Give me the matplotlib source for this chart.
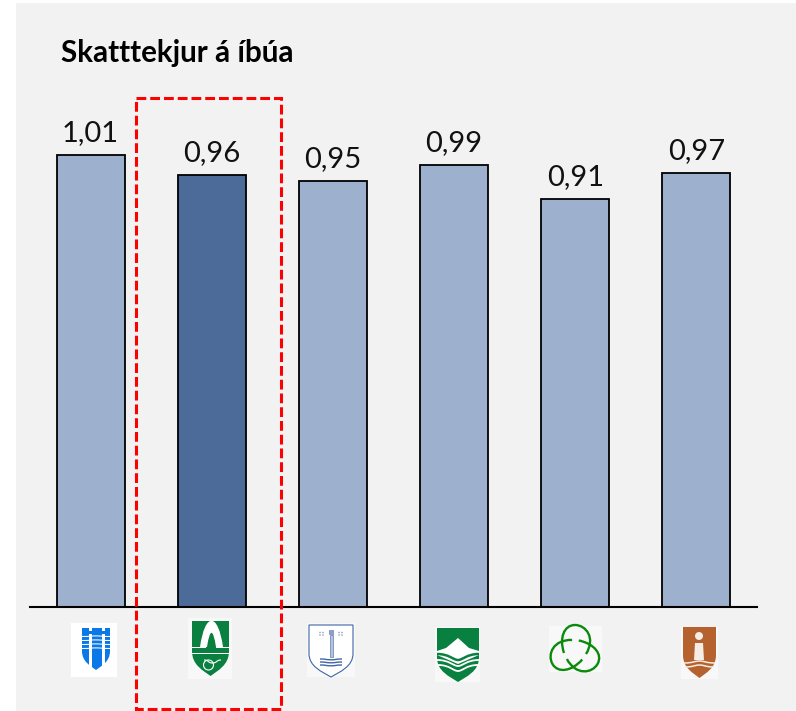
import math
import matplotlib
matplotlib.use("Agg")
import matplotlib.pyplot as plt
from matplotlib.patches import Rectangle, PathPatch, Circle, Polygon
from matplotlib.path import Path

plt.rcParams['font.family'] = ['Lato', 'DejaVu Sans']

titill = "Skatttekjur á íbúa"
gildi = [1.008, 0.964, 0.951, 0.987, 0.911, 0.969]
merki = ["", "", "", "", "", ""]  # sveitarfélögin eru aðeins sýnd með byggðarmerki
valid = 1

W, H = 796, 711
LJOS = "#9DB0CE"
DOKK = "#4D6B98"
BAKGRUNNUR = "#F2F2F2"

fig = plt.figure(figsize=(W / 100, H / 100), dpi=100, facecolor="white")

# teikniflötur í pixlahnitum fyrir bakgrunn, ramma og merki
yfir = fig.add_axes([0, 0, 1, 1], zorder=3)
yfir.set_xlim(0, W)
yfir.set_ylim(H, 0)
yfir.axis("off")
yfir.patch.set_alpha(0)

undir = fig.add_axes([0, 0, 1, 1], zorder=0)
undir.set_xlim(0, W)
undir.set_ylim(H, 0)
undir.axis("off")
undir.add_patch(Rectangle((16, 3), 780, 708, fc=BAKGRUNNUR, ec="none"))

# ---------------- Súlurit ----------------
ax = fig.add_axes([30 / W, (H - 607) / H, 727 / W, 507 / H], zorder=1)
ax.patch.set_alpha(0)
x = list(range(len(gildi)))
litir = [DOKK if i == valid else LJOS for i in x]
ax.bar(x, gildi, width=0.56, color=litir, edgecolor="black", linewidth=1.3)
ax.set_xlim(-0.5, 5.5)
ax.set_ylim(0, 507 / 448)
ax.set_xticks(x)
ax.set_xticklabels(merki)
ax.set_yticks([])
ax.tick_params(length=0)
for s in ["top", "left", "right"]:
    ax.spines[s].set_visible(False)
ax.spines["bottom"].set_linewidth(1.5)

for i, v in zip(x, gildi):
    ax.annotate(f"{v:.2f}".replace(".", ","), (i, v), xytext=(0, 6.5), textcoords="offset points",
                ha="center", va="bottom", fontsize=21, color="#111111")

fig.text(61 / W, 1 - 62 / H, titill, fontsize=21.3, fontweight="bold", color="black", va="baseline")

# rauði ramminn
yfir.add_patch(Rectangle((135.5, 98), 145.5, 611, fc="none", ec="#FF0000", lw=2.2,
                         ls=(0, (3.2, 1.3))))


# ---------------- Byggðarmerki ----------------
def skjoldur(x0, x1, y0, y1, lit, ec="none", lw=0):
    # skjöldur með beinum toppi og oddi neðst
    mx = (x0 + x1) / 2
    h = y1 - y0
    verts = [(x0, y0), (x1, y0), (x1, y0 + 0.55 * h),
             (x1, y0 + 0.8 * h), (mx + 0.2 * (x1 - x0), y0 + 0.9 * h), (mx, y1),
             (mx - 0.2 * (x1 - x0), y0 + 0.9 * h), (x0, y0 + 0.8 * h), (x0, y0 + 0.55 * h),
             (x0, y0)]
    codes = [Path.MOVETO, Path.LINETO, Path.LINETO,
             Path.CURVE4, Path.CURVE4, Path.CURVE4,
             Path.CURVE4, Path.CURVE4, Path.CURVE4,
             Path.CLOSEPOLY]
    p = PathPatch(Path(verts, codes), fc=lit, ec=ec, lw=lw)
    yfir.add_patch(p)
    return p


def bylgja(x0, x1, y, lit, lw, dypt=3):
    mx = (x0 + x1) / 2
    verts = [(x0, y), (x0 + (x1 - x0) * 0.3, y), (mx - 5, y + dypt), (mx, y + dypt),
             (mx + 5, y + dypt), (x1 - (x1 - x0) * 0.3, y), (x1, y)]
    codes = [Path.MOVETO] + [Path.CURVE4] * 6
    yfir.add_patch(PathPatch(Path(verts, codes), fc="none", ec=lit, lw=lw))


def hvitt(x0, y0, x1, y1, lit="#F8F8F8"):
    yfir.add_patch(Rectangle((x0, y0), x1 - x0, y1 - y0, fc=lit, ec="none"))


# 1 - blátt
BLAR = "#0A78E6"
hvitt(71, 623, 117, 677, "white")
skjoldur(82, 110, 628, 670, BLAR)
for xv in [89, 102]:
    yfir.add_patch(Rectangle((xv, 628), 2.6, 44, fc="white", ec="none"))
    yfir.add_patch(Rectangle((xv, 631), 2.6, 3, fc=BLAR, ec="none"))
for yv in [636.5, 640.5, 644.5, 648.5]:
    bylgja(82, 110, yv, "white", 0.75, dypt=-0.6)

# 2 - grænt með boga
GRAENN = "#0A8040"
hvitt(188, 618, 232, 679)
skjoldur(192, 229, 621, 676, GRAENN)
verts = [(200, 647), (205, 612), (218, 612), (223, 647), (216, 647),
         (213, 628), (210, 628), (207, 647), (200, 647)]
codes = [Path.MOVETO, Path.CURVE4, Path.CURVE4, Path.CURVE4, Path.LINETO,
         Path.CURVE4, Path.CURVE4, Path.CURVE4, Path.CLOSEPOLY]
yfir.add_patch(PathPatch(Path(verts, codes), fc="white", ec="none"))
yfir.add_patch(Rectangle((192, 646.5), 37, 1.3, fc="white", ec="none"))
yfir.add_patch(Rectangle((192, 652.5), 37, 1.3, fc="white", ec="none"))
yfir.add_patch(Rectangle((206, 647), 10, 6, fc=GRAENN, ec="none"))
yfir.add_patch(Circle((208.5, 665), 5, fc="none", ec="white", lw=0.8))
bylgja(204, 221, 660, "white", 0.8, dypt=3)

# 3 - viti
VITI = "#3F66A8"
hvitt(307, 623, 355, 677)
skjoldur(309, 353, 625, 677, "white", ec=VITI, lw=0.8)
yfir.add_patch(Rectangle((328.5, 630), 5, 5, fc="#8AA0C8", ec="none"))
yfir.add_patch(Rectangle((329.5, 635), 3, 22, fc="#B4C2DC", ec=VITI, lw=0.4))
for dx in [-11, -8, 8, 11]:
    yfir.add_patch(Circle((331 + dx, 632.5), 0.8, fc="#8AA0C8", ec="none"))
    yfir.add_patch(Circle((331 + dx, 635), 0.8, fc="#8AA0C8", ec="none"))
for yv in [659, 662, 665]:
    bylgja(320, 342, yv, VITI, 1.0, dypt=0.8)

# 4 - grænt með fjalli og bylgjum
GRAENN2 = "#08803F"
hvitt(435, 627, 480, 682)
skjoldur(437, 479, 628, 682, GRAENN2)
yfir.add_patch(Polygon([(437, 651), (446, 648), (458, 638), (469, 648), (479, 651), (479, 655),
                        (458, 664), (437, 655)], fc="white", ec="none"))
bylgja(437, 479, 654, GRAENN2, 1.8, dypt=6)
bylgja(437, 479, 660, "white", 1.3, dypt=6)
bylgja(438, 478, 665, "white", 1.3, dypt=6)

# 5 - þríhyrnd slaufa
hvitt(549, 626, 602, 672)
GR3 = "#0A8A0A"
for horn in [90, 210, 330]:
    a = math.radians(horn)
    ur = (math.cos(a), -math.sin(a))
    vr = (math.sin(a), math.cos(a))
    blad = [(-3, 11), (13, 21), (26, 11), (26, 0), (26, -11), (13, -16), (-2, -11)]
    punktar = [(575 + u * ur[0] + v * vr[0], 651 + u * ur[1] + v * vr[1]) for u, v in blad]
    kodar = [Path.MOVETO] + [Path.CURVE4] * 6
    yfir.add_patch(PathPatch(Path(punktar, kodar), fc="none", ec=GR3, lw=1.7))

# 6 - brúnt
BRUNN = "#B5622E"
hvitt(681, 627, 718, 679)
skjoldur(683, 716, 627, 678, BRUNN)
yfir.add_patch(Circle((699, 636), 4, fc="#F5EDE6", ec="none"))
yfir.add_patch(Polygon([(695, 643), (703, 643), (704, 660), (694, 660)], fc="#F5EDE6", ec="none"))
bylgja(684, 715, 663, "#F5EDE6", 1.1, dypt=-2)
bylgja(685, 714, 667, "#F5EDE6", 1.1, dypt=-2)

fig.savefig("out.png", dpi=100, facecolor="white")
